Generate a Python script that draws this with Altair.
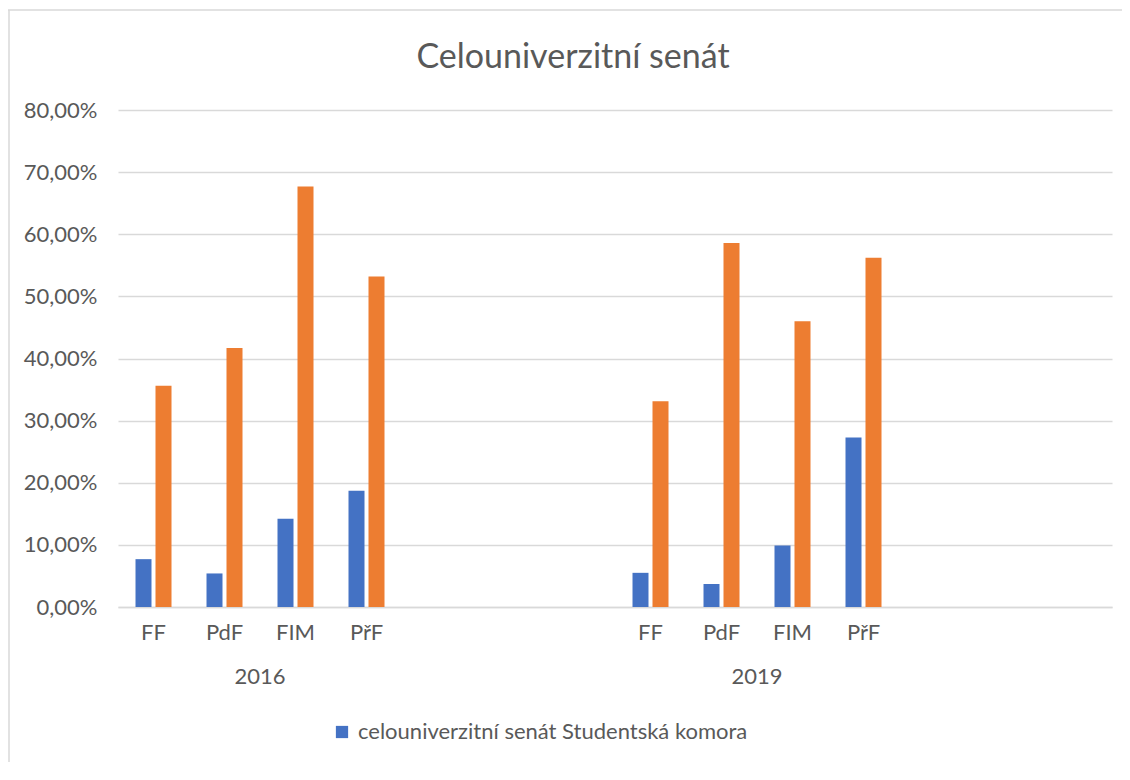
import altair as alt
import pandas as pd

# ---- data ----
title_text = ["Celouniverzitní senát"]
years = ["2016", "2019"]
faculties = ["FF", "PdF", "FIM", "PřF"]
empty_slots = ["e5", "e6", "e7"]  # blank categories in each year group
series = ["celouniverzitní senát Studentská komora", "celouniverzitní senát Akademická komora"]
blue_2016 = [0.077, 0.054, 0.142, 0.187]
orange_2016 = [0.356, 0.417, 0.677, 0.532]
blue_2019 = [0.055, 0.037, 0.099, 0.273]
orange_2019 = [0.331, 0.586, 0.460, 0.562]
y_ticks = [0, 0.1, 0.2, 0.3, 0.4, 0.5, 0.6, 0.7, 0.8]

values = {
    ("2016", series[0]): blue_2016,
    ("2016", series[1]): orange_2016,
    ("2019", series[0]): blue_2019,
    ("2019", series[1]): orange_2019,
}

slots = [f"{y}:{c}" for y in years for c in faculties + empty_slots]

rows = []
for (yr, s), vals in values.items():
    for fac, v in zip(faculties, vals):
        rows.append({"slot": f"{yr}:{fac}", "series": s, "value": v})
df = pd.DataFrame(rows)

groups = pd.DataFrame({"year": years, "slot": [f"{y}:{faculties[1]}" for y in years]})

W, H = 994, 497
GREY = "#595959"
GRID = "#d9d9d9"
FONT = "Lato"

x_enc = alt.X(
    "slot:N",
    scale=alt.Scale(domain=slots, paddingInner=0, paddingOuter=0),
    sort=slots,
    axis=alt.Axis(
        title=None,
        labelExpr="indexof(datum.value, ':e') >= 0 ? '' : split(datum.value, ':')[1]",
        labelAngle=0,
        labelFont=FONT,
        labelFontSize=22,
        labelColor=GREY,
        labelPadding=15,
        ticks=False,
        domainColor=GRID,
        domainWidth=1.5,
        grid=False,
    ),
)

bars = alt.Chart(df).mark_bar().encode(
    x=x_enc,
    xOffset=alt.XOffset(
        "series:N",
        sort=series,
        scale=alt.Scale(domain=series, paddingInner=0.2, paddingOuter=0.875),
    ),
    y=alt.Y(
        "value:Q",
        scale=alt.Scale(domain=[0, 0.8], nice=False),
        axis=alt.Axis(
            title=None,
            values=y_ticks,
            labelExpr="replace(format(datum.value, '.2%'), '.', ',')",
            labelFont=FONT,
            labelFontSize=22,
            labelColor=GREY,
            labelPadding=21,
            ticks=False,
            domain=False,
            gridColor=GRID,
            gridWidth=1.5,
        ),
    ),
    color=alt.Color(
        "series:N",
        sort=series,
        scale=alt.Scale(domain=series, range=["#4472C4", "#ED7D31"]),
        legend=alt.Legend(
            title=None,
            values=[series[0]],
            orient="none",
            legendX=213,
            legendY=611,
            symbolType="square",
            symbolSize=150,
            symbolStrokeWidth=0,
            labelFont=FONT,
            labelFontSize=22,
            labelColor=GREY,
            labelLimit=700,
            labelOffset=5,
            padding=0,
        ),
    ),
)

group_labels = alt.Chart(groups).mark_text(
    font=FONT, fontSize=22, color=GREY, baseline="middle", align="center"
).encode(
    x=alt.X("slot:N", bandPosition=1, scale=alt.Scale(domain=slots), sort=slots),
    y=alt.value(567),
    text="year:N",
)

title = alt.Chart(pd.DataFrame({"t": title_text})).mark_text(
    font=FONT, fontSize=34, color=GREY, baseline="middle", align="center"
).encode(x=alt.value(455), y=alt.value(-52), text="t:N")

border = alt.Chart(alt.Data(values=[{}]))
top_line = border.mark_rule(color=GRID, strokeWidth=1.5).encode(
    x=alt.value(-110), x2=alt.value(1010), y=alt.value(-100)
)
left_line = border.mark_rule(color=GRID, strokeWidth=1.5).encode(
    x=alt.value(-109), y=alt.value(-100), y2=alt.value(700)
)

chart = alt.layer(bars, group_labels, title, top_line, left_line).properties(
    width=W,
    height=H,
    autosize=alt.AutoSizeParams(type="none"),
    padding={"left": 110, "top": 102, "right": 10, "bottom": 155},
).configure_view(stroke=None)

chart.save("out.html", embed_options={"renderer": "svg", "actions": False})
